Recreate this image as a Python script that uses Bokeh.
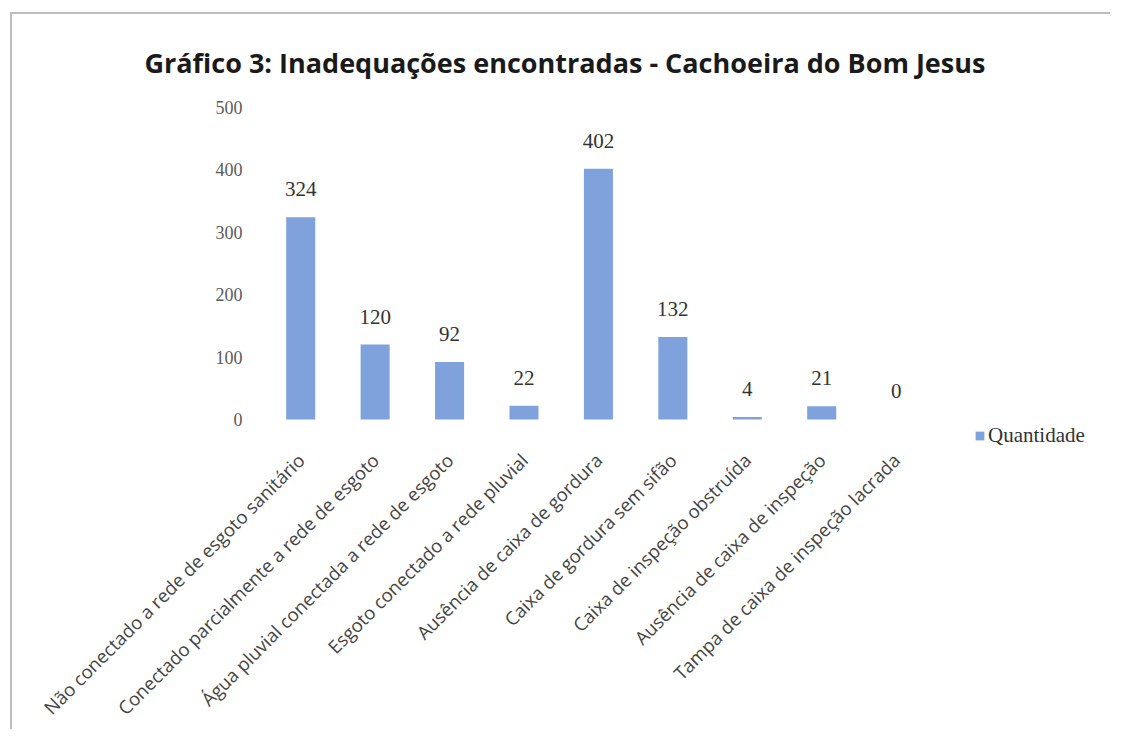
from math import pi
from bokeh.plotting import figure
from bokeh.models import (ColumnDataSource, LabelSet, Legend, LegendItem,
                          Range1d, FixedTicker)
from bokeh.embed import file_html
from bokeh.resources import INLINE

categories = [
    "Não conectado a rede de esgoto sanitário",
    "Conectado parcialmente a rede de esgoto",
    "Água pluvial conectada a rede de esgoto",
    "Esgoto conectado a rede pluvial",
    "Ausência de caixa de gordura",
    "Caixa de gordura sem sifão",
    "Caixa de inspeção obstruída",
    "Ausência de caixa de inspeção",
    "Tampa de caixa de inspeção lacrada",
]
values = [324, 120, 92, 22, 402, 132, 4, 21, 0]
y_ticks = [0, 100, 200, 300, 400, 500]
series_name = "Quantidade"
title_text = "Gráfico 3: Inadequações encontradas - Cachoeira do Bom Jesus"

positions = list(range(len(categories)))
source = ColumnDataSource(data=dict(x=positions, cat=categories, val=values,
                                    lbl=[str(v) for v in values]))

p = figure(x_range=Range1d(-0.5, 10.84), y_range=Range1d(-49.8, 500),
           width=1100, height=717, output_backend="svg", toolbar_location=None,
           min_border_left=251, min_border_right=5, min_border_top=93,
           min_border_bottom=270)

p.margin = (12, 0, 0, 10)
p.styles = {"border-left": "2px solid #bdbdbd", "border-top": "2px solid #bdbdbd"}

p.title.text = title_text
p.title.text_font = "Open Sans"
p.title.text_font_style = "bold"
p.title.text_font_size = "27px"
p.title.text_color = "#1a1a1a"
p.title.align = "left"
p.title.offset = -119
p.title.standoff = 54

p.outline_line_color = None
p.xgrid.grid_line_color = None
p.ygrid.grid_line_color = None

r = p.vbar(x="x", top="val", bottom=0, width=0.39, source=source,
           fill_color="#7fa2dd", line_color=None)

p.yaxis.ticker = FixedTicker(ticks=y_ticks)
p.yaxis.axis_line_color = None
p.yaxis.major_tick_line_color = None
p.yaxis.minor_tick_line_color = None
p.yaxis.major_label_text_font = "Liberation Serif"
p.yaxis.major_label_text_font_size = "18px"
p.yaxis.major_label_text_color = "#5a5a5a"
p.yaxis.major_label_standoff = 15

p.xaxis.ticker = FixedTicker(ticks=positions)
p.xaxis.major_label_overrides = {i: c for i, c in zip(positions, categories)}
p.xaxis.axis_line_color = None
p.xaxis.major_tick_line_color = None
p.xaxis.minor_tick_line_color = None
p.xaxis.major_label_orientation = pi / 4
p.xaxis.major_label_text_font = "Open Sans"
p.xaxis.major_label_text_font_size = "18.5px"
p.xaxis.major_label_text_color = "#444444"
p.xaxis.major_label_standoff = 0

labels = LabelSet(x="x", y="val", text="lbl", source=source,
                  text_align="center", text_baseline="bottom", y_offset=21,
                  text_font="Liberation Serif", text_font_size="21px",
                  text_color="#333333")
p.add_layout(labels)

legend = Legend(items=[LegendItem(label=series_name, renderers=[r])],
                location=(711, 2), orientation="vertical",
                border_line_color=None, background_fill_alpha=0,
                padding=0, margin=0, glyph_width=11, glyph_height=11,
                label_standoff=3, label_text_font="Liberation Serif",
                label_text_font_size="21px", label_text_color="#333333")
p.add_layout(legend)

open("out.html", "w").write(file_html(p, INLINE))
